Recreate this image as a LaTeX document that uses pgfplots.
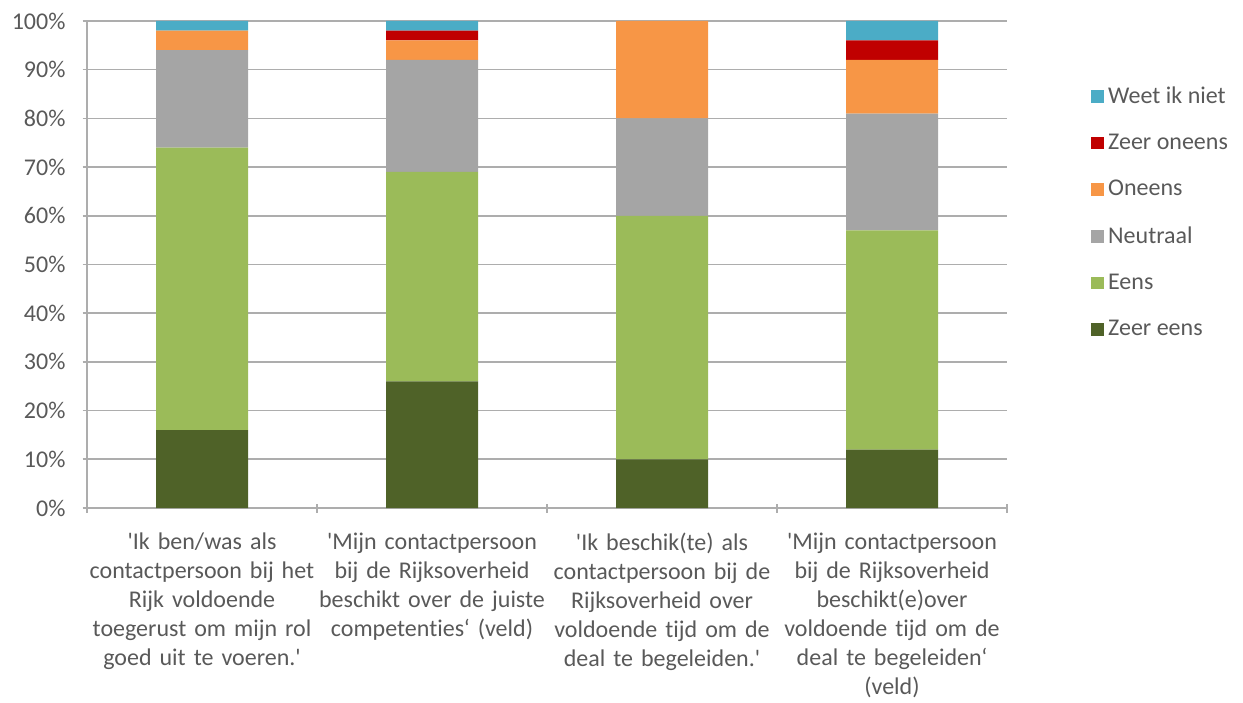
\documentclass[border=0pt]{standalone}
\usepackage{fontspec}
\setmainfont{Carlito}[Ligatures={TeXOff,NoCommon}]
\usepackage{pgfplots}
\pgfplotsset{compat=1.18}
\definecolor{cWeet}{HTML}{4BACC6}
\definecolor{cZO}{HTML}{C00000}
\definecolor{cOn}{HTML}{F79646}
\definecolor{cNeu}{HTML}{A5A5A5}
\definecolor{cEens}{HTML}{9BBB59}
\definecolor{cZE}{HTML}{4F6228}
\definecolor{txt}{HTML}{595959}
\definecolor{gridc}{HTML}{ADADAD}
\newcommand\cf{\fontsize{12}{14.5}\selectfont}
\pgfplotsset{sw/.style={fill=#1, draw=none, legend image code/.code={\fill[#1] (0pt,-3.2pt) rectangle (6.4pt,3.2pt);}}}
\begin{document}
\begin{tikzpicture}
\useasboundingbox (0,0) rectangle (621.5pt,351pt);
\begin{axis}[
  at={(43.5pt,97pt)}, anchor=south west,
  scale only axis, width=460pt, height=243.5pt,
  ybar stacked, bar width=46pt,
  xmin=-0.5, xmax=3.5, ymin=0, ymax=100,
  xtick={-0.5,0.5,1.5,2.5,3.5}, xticklabels={,,,,,},
  extra x ticks={0,1,2,3},
  extra x tick style={major tick length=0pt},
  extra x tick labels={
    {'Ik ben/was als\\contactpersoon bij het\\Rijk voldoende\\toegerust om mijn rol\\goed uit te voeren.'},
    {'Mijn contactpersoon\\bij de Rijksoverheid\\beschikt over de juiste\\competenties‘ (veld)},
    {'Ik beschik(te) als\\contactpersoon bij de\\Rijksoverheid over\\voldoende tijd om de\\deal te begeleiden.'},
    {'Mijn contactpersoon\\bij de Rijksoverheid\\beschikt(e)over\\voldoende tijd om de\\deal te begeleiden‘\\(veld)}},
  x tick label style={font=\cf, text=txt, align=center, text width=115pt, yshift=-9pt},
  ytick={0,10,...,100},
  yticklabel={\pgfmathprintnumber{\tick}\%},
  /pgf/number format/assume math mode=true,
  y tick label style={font=\cf, text=txt, xshift=-5pt},
  tick align=outside, major tick length=4.5pt,
  tick style={gridc, line width=0.8pt},
  ymajorgrids, major grid style={gridc, line width=0.8pt},
  axis x line=bottom, axis y line=left,
  axis line style={gridc, line width=0.8pt, -},
  legend style={at={(1,1)}, anchor=north west, xshift=39pt, yshift=-28.5pt,
    draw=none, fill=none, font=\cf, text=txt, row sep=9.9pt,
    /tikz/every even column/.append style={column sep=0pt}},
  legend cell align=left, reverse legend,
]
\addplot[sw=cZE] coordinates {(0,16) (1,26) (2,10) (3,12)};
\addplot[sw=cEens] coordinates {(0,58) (1,43) (2,50) (3,45)};
\addplot[sw=cNeu] coordinates {(0,20) (1,23) (2,20) (3,24)};
\addplot[sw=cOn] coordinates {(0,4) (1,4) (2,20) (3,11)};
\addplot[sw=cZO] coordinates {(0,0) (1,2) (2,0) (3,4)};
\addplot[sw=cWeet] coordinates {(0,2) (1,2) (2,0) (3,4)};
\legend{Zeer eens, Eens, Neutraal, Oneens, Zeer oneens, Weet ik niet}
\end{axis}
\end{tikzpicture}
\end{document}
